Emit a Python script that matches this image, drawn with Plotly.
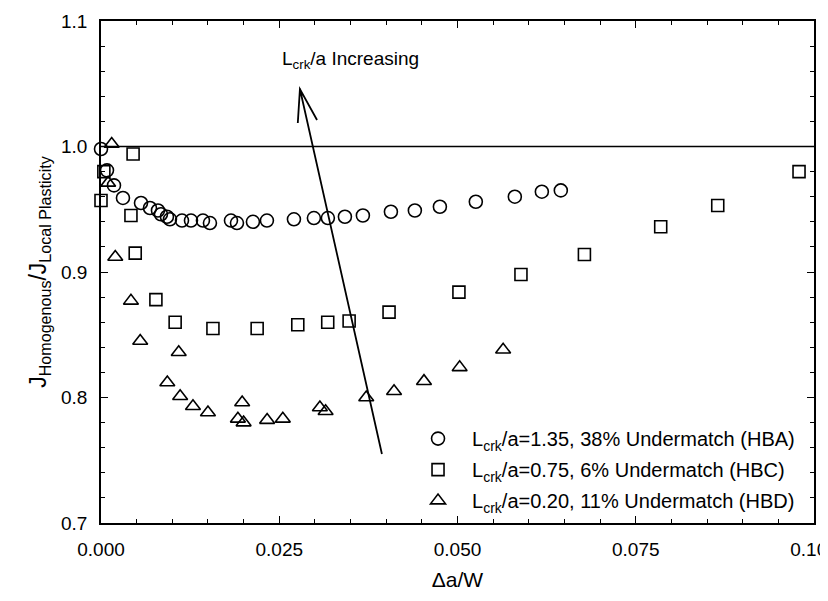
import plotly.graph_objects as go

# ---- data ----
hba_x = [0.0000, 0.00084, 0.00182, 0.00308, 0.00561, 0.00687, 0.00799, 0.00841, 0.00925, 0.00967,
         0.01136, 0.01262, 0.01430, 0.01528, 0.01823, 0.01907, 0.02131, 0.02327, 0.02706, 0.02986,
         0.03182, 0.03421, 0.03673, 0.04066, 0.04402, 0.04753, 0.05257, 0.05804, 0.06183, 0.06449]
hba_y = [0.998, 0.981, 0.969, 0.959, 0.955, 0.951, 0.949, 0.946, 0.944, 0.942,
         0.941, 0.941, 0.941, 0.939, 0.941, 0.939, 0.940, 0.941, 0.942, 0.943,
         0.943, 0.944, 0.945, 0.948, 0.949, 0.952, 0.956, 0.960, 0.964, 0.965]

hbc_x = [0.0000, 0.0004, 0.0045, 0.0042, 0.0048, 0.0077, 0.0104, 0.0157, 0.0219, 0.0276,
         0.0318, 0.0348, 0.0404, 0.0502, 0.0589, 0.0678, 0.0785, 0.0865, 0.0979]
hbc_y = [0.957, 0.980, 0.994, 0.945, 0.915, 0.878, 0.860, 0.855, 0.855, 0.858,
         0.860, 0.861, 0.868, 0.884, 0.898, 0.914, 0.936, 0.953, 0.980]

hbd_x = [0.0015, 0.0010, 0.0020, 0.0042, 0.0055, 0.0109, 0.0093, 0.0111, 0.0129, 0.0150, 0.0198,
         0.0192, 0.0200, 0.0233, 0.0255, 0.0307, 0.0315, 0.0372, 0.0411, 0.0453, 0.0503, 0.0564]
hbd_y = [1.002, 0.971, 0.912, 0.877, 0.845, 0.836, 0.812, 0.801, 0.793, 0.788, 0.796,
         0.783, 0.780, 0.782, 0.783, 0.792, 0.789, 0.800, 0.805, 0.813, 0.824, 0.838]

series_names = [
    "L<sub>crk</sub>/a=1.35, 38% Undermatch (HBA)",
    "L<sub>crk</sub>/a=0.75, 6% Undermatch (HBC)",
    "L<sub>crk</sub>/a=0.20, 11% Undermatch (HBD)",
]
x_ticks = [0.0, 0.025, 0.05, 0.075, 0.1]
y_ticks = [0.7, 0.8, 0.9, 1.0, 1.1]

FONT = "Liberation Sans, Arial, sans-serif"

fig = go.Figure()
symbols = ["circle-open", "square-open", "triangle-up-open"]
sizes = [13, 12, 13]
for i, (xs, ys) in enumerate([(hba_x, hba_y), (hbc_x, hbc_y), (hbd_x, hbd_y)]):
    fig.add_trace(go.Scatter(
        x=xs, y=ys, mode="markers", name=series_names[i], legendgroup=f"g{i}",
        marker=dict(symbol=symbols[i], size=sizes[i], color="black",
                    line=dict(color="black", width=1.6)),
        cliponaxis=False,
    ))

# reference line at 1.0
fig.add_shape(type="line", xref="paper", yref="y", x0=0, x1=1, y0=1.0, y1=1.0,
              line=dict(color="black", width=1.6))

# arrow (open V head)
tip = (0.0279, 1.0458)
tail = (0.0394, 0.755)
w1 = (0.0276, 1.0187)
w2 = (0.0303, 1.0211)
path = (f"M {tail[0]},{tail[1]} L {tip[0]},{tip[1]} "
        f"M {w1[0]},{w1[1]} L {tip[0]},{tip[1]} L {w2[0]},{w2[1]}")
fig.add_shape(type="path", xref="x", yref="y", path=path,
              line=dict(color="black", width=1.8))

fig.add_annotation(x=0.0350, y=1.0689, xref="x", yref="y", showarrow=False,
                   text="L<sub>crk</sub>/a Increasing",
                   font=dict(family=FONT, size=19, color="black"))

axis_common = dict(
    showline=True, linecolor="black", linewidth=1.6, mirror="allticks",
    ticks="inside", ticklen=7, tickwidth=1.4, tickcolor="black",
    showgrid=False, zeroline=False,
    tickfont=dict(family=FONT, size=19, color="black"),
    automargin=False,
)

fig.update_xaxes(
    range=[0, 0.1], tickvals=x_ticks, tickformat=".3f",
    minor=dict(dtick=0.005, ticks="inside", ticklen=4, tickwidth=1.2, tickcolor="black"),
    title=dict(text="Δa/W", font=dict(family=FONT, size=21, color="black"), standoff=14),
    ticklabelstandoff=8, ticklabeloverflow="allow",
    **axis_common,
)
fig.update_yaxes(
    range=[0.7, 1.1], tickvals=y_ticks, tickformat=".1f",
    minor=dict(dtick=0.02, ticks="inside", ticklen=4, tickwidth=1.2, tickcolor="black"),
    title=dict(text="J<sub>Homogenous</sub>/J<sub>Local Plasticity</sub>",
               font=dict(family=FONT, size=23, color="black"), standoff=8),
    ticklabelstandoff=8,
    **axis_common,
)

fig.update_layout(
    width=820, height=593,
    margin=dict(l=93, r=14, t=13, b=78),
    paper_bgcolor="white", plot_bgcolor="white",
    showlegend=True,
    legend=dict(
        x=0.425, y=0.207, xanchor="left", yanchor="top",
        font=dict(family=FONT, size=20, color="black"),
        bgcolor="rgba(0,0,0,0)", borderwidth=0,
        tracegroupgap=2, itemwidth=58,
    ),
    font=dict(family=FONT, color="black"),
)

fig.write_html("out.html")
